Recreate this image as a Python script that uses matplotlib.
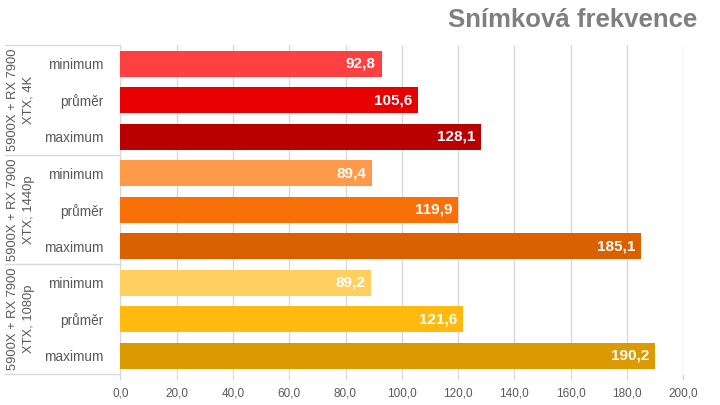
import matplotlib.pyplot as plt
import numpy as np

plt.rcParams['font.family'] = ['Liberation Sans', 'DejaVu Sans']

title = "Snímková frekvence"
groups = ["5900X + RX 7900\nXTX, 4K", "5900X + RX 7900\nXTX, 1440p", "5900X + RX 7900\nXTX, 1080p"]
metrics = ["minimum", "průměr", "maximum"]
values_4k = [92.8, 105.6, 128.1]
values_1440 = [89.4, 119.9, 185.1]
values_1080 = [89.2, 121.6, 190.2]
colors_4k = ["#FF4040", "#E80000", "#B80000"]
colors_1440 = ["#FF9A4A", "#F97008", "#DB6100"]
colors_1080 = ["#FFD060", "#FFB90F", "#DB9A00"]
xticks = [0, 20, 40, 60, 80, 100, 120, 140, 160, 180, 200]

vals = values_4k + values_1440 + values_1080
cols = colors_4k + colors_1440 + colors_1080
labels = metrics * 3
n = len(vals)
y = np.arange(n)

W, H = 720, 405
fig = plt.figure(figsize=(7.2, 4.05), dpi=100)
left, right, top, bottom = 120.5, 683, 45.3, 374
ax = fig.add_axes([left / W, (H - bottom) / H, (right - left) / W, (bottom - top) / H])

ax.barh(y, vals, height=0.71, color=cols, zorder=3)
ax.set_ylim(n - 0.5, -0.5)
ax.set_xlim(0, 200)

for yi, v in zip(y, vals):
    ax.text(v - 2.0, yi, f"{v:.1f}".replace(".", ","), ha="right", va="center",
            color="white", fontsize=11, fontweight="bold", zorder=4)

ax.set_yticks(y)
ax.set_yticklabels(labels, fontsize=9.8, color="#595959")
ax.tick_params(axis="y", length=0, pad=12)

ax.set_xticks(xticks)
ax.set_xticklabels([f"{t:.1f}".replace(".", ",") for t in xticks], fontsize=8.5, color="#595959")
ax.tick_params(axis="x", length=4, color="#D9D9D9", width=1, pad=6)
ax.grid(axis="x", color="#D9D9D9", linewidth=1, zorder=0)

for s in ["top", "right", "bottom"]:
    ax.spines[s].set_visible(False)
ax.spines["left"].set_color("#D9D9D9")

# group separators in the label area
x0 = (5 - left) / (right - left)
for k in range(4):
    yy = 3 * k - 0.5
    ax.plot([x0, 0], [yy, yy], transform=ax.get_yaxis_transform(), color="#D9D9D9",
            linewidth=1, clip_on=False)
for k, g in enumerate(groups):
    ax.text((21 - left) / (right - left), 3 * k + 1, g, transform=ax.get_yaxis_transform(),
            rotation=90, ha="center", va="center", fontsize=9.3, color="#595959",
            multialignment="center", linespacing=1.35)

fig.text(697 / W, 1 - 20 / H, title, ha="right", va="center", fontsize=18.5,
         fontweight="bold", color="#7F7F7F")

fig.savefig("out.png", dpi=100)
